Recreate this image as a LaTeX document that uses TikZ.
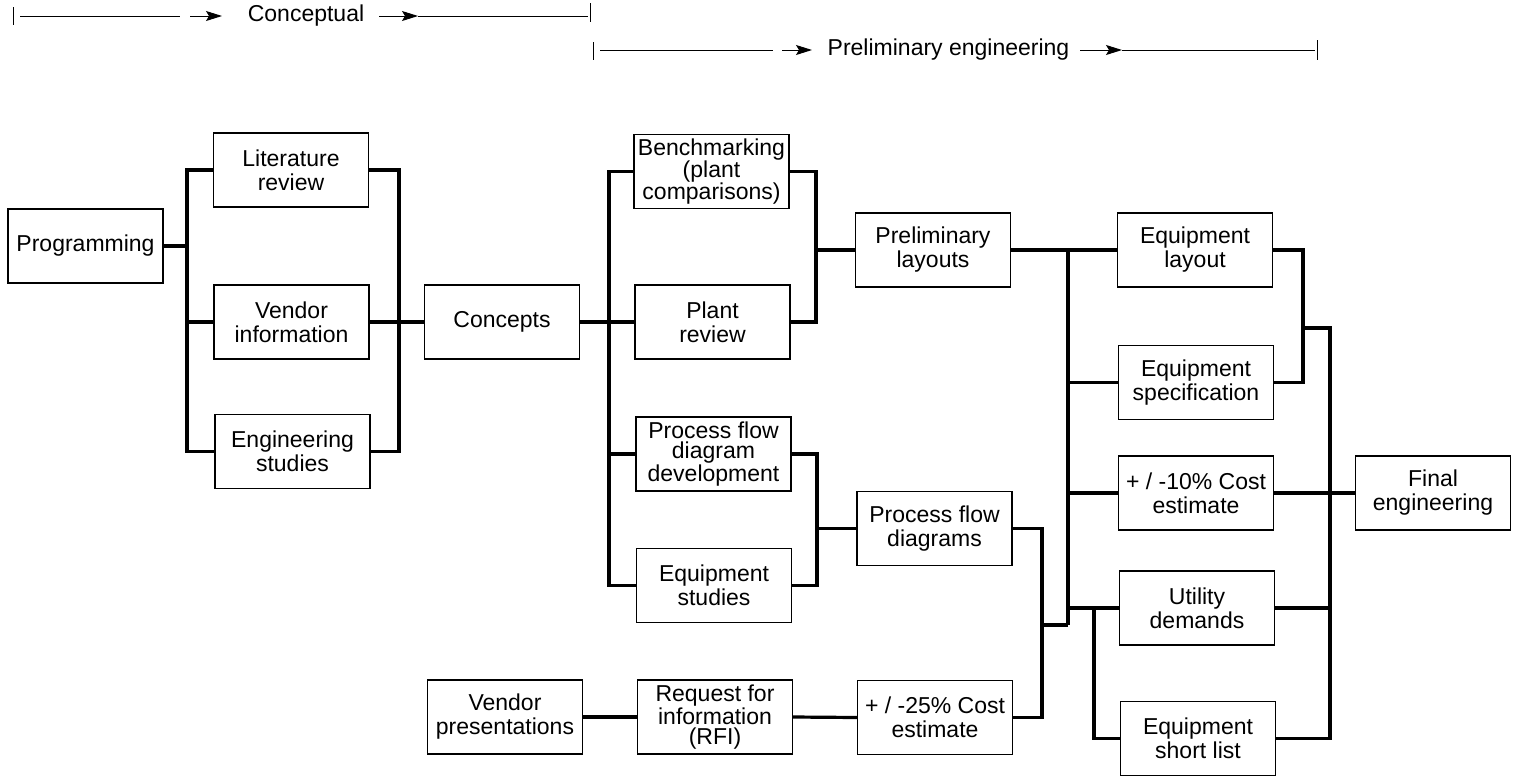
\documentclass[tikz,border=0pt]{standalone}
\usepackage{fontspec}
\setmainfont{Liberation Sans}
\usetikzlibrary{arrows.meta}
\begin{document}
\begin{tikzpicture}[x=1pt,y=-1pt,
  box/.style={draw,line width=1.4pt,minimum width=155pt,minimum height=74pt,inner sep=1pt,align=center,font=\fontsize{23}{24}\selectfont},
  tight/.style={font=\fontsize{23}{20}\selectfont},
  conn/.style={line width=3.2pt},
  hdr/.style={line width=1pt},
  harrow/.style={line width=1pt,-{Stealth[length=16pt,width=10pt,inset=3pt]}},
  lbl/.style={font=\fontsize{23}{24}\selectfont,inner sep=0pt}]
\useasboundingbox (0,0) rectangle (1515,777);

% boxes
\node[box] (prog) at (85.5,246) {Programming};
\node[box] (lit) at (291,170) {Literature\\review};
\node[box] (vinf) at (291.5,322) {Vendor\\information};
\node[box] (eng) at (292.5,451.5) {Engineering\\studies};
\node[box] (conc) at (502,322) {Concepts};
\node[box,tight] (bench) at (711.5,171.5) {Benchmarking\\(plant\\comparisons)};
\node[box] (plant) at (712.5,322) {Plant\\review};
\node[box,tight] (pfdd) at (713.5,454) {Process flow\\diagram\\development};
\node[box] (eqst) at (714,585.5) {Equipment\\studies};
\node[box] (prel) at (933,250) {Preliminary\\layouts};
\node[box] (pfd) at (934.5,528.5) {Process flow\\diagrams};
\node[box] (vpres) at (505,717) {Vendor\\presentations};
\node[box,tight] (rfi) at (715,717) {Request for\\information\\(RFI)};
\node[box] (c25) at (935,717.5) {+ / -25\% Cost\\estimate};
\node[box] (eqlay) at (1195,250) {Equipment\\layout};
\node[box] (eqspec) at (1196,382.5) {Equipment\\specification};
\node[box] (c10) at (1196,493) {+ / -10\% Cost\\estimate};
\node[box] (util) at (1197,608) {Utility\\demands};
\node[box] (short) at (1198,738.5) {Equipment\\short list};
\node[box] (final) at (1433,493) {Final\\engineering};

% bus coordinates
\coordinate (b1) at (187,246);
\coordinate (b2) at (399,322);
\coordinate (b3) at (609,322);
\coordinate (b4) at (816,250);
\coordinate (b5) at (817,528.5);
\coordinate (b6) at (1068,625);
\coordinate (b7) at (1094,608);
\coordinate (b8) at (1042,625);
\coordinate (b9) at (1303,328);
\coordinate (b10) at (1330,328);

% connectors
\draw[conn] (prog.east) -- (b1);
\draw[conn] (lit.west) -| (b1) |- (eng.west);
\draw[conn] (vinf.west) -- (vinf.west -| b1);
\draw[conn] (lit.east) -| (b2) |- (eng.east);
\draw[conn] (vinf.east) -- (conc.west);

\draw[conn] (bench.west) -| (b3) |- (eqst.west);
\draw[conn] (conc.east) -- (plant.west);
\draw[conn] (pfdd.west) -- (pfdd.west -| b3);

\draw[conn] (bench.east) -| (b4) |- (plant.east);
\draw[conn] (b4) -- (prel.west);
\draw[conn] (pfdd.east) -| (b5) |- (eqst.east);
\draw[conn] (b5) -- (pfd.west);

\draw[conn] (prel.east) -- (eqlay.west);
\draw[conn] (eqlay.west -| b6) -- (b6);
\draw[conn] (eqspec.west -| b6) -- (eqspec.west);
\draw[conn] (c10.west -| b6) -- (c10.west);
\draw[conn] (util.west -| b6) -- (util.west);
\draw[conn] (util.west -| b7) |- (short.west);
\draw[conn] (pfd.east) -| (b8) |- (c25.east);
\draw[conn] (b8) -- (b6);

\draw[conn] (vpres.east) -- (rfi.west);
\draw[conn] (rfi.east) -- (c25.west);

\draw[conn] (eqlay.east) -| (b9) |- (eqspec.east);
\draw[conn] (b9) -- (b10) |- (short.east);
\draw[conn] (util.east) -- (util.east -| b10);
\draw[conn] (c10.east) -- (final.west);

% header: conceptual
\coordinate (t1a) at (13,7);   \coordinate (t1b) at (13,25);
\coordinate (l1a) at (20,16);  \coordinate (l1b) at (180,16);
\coordinate (a1a) at (190,16); \coordinate (a1b) at (222,16);
\coordinate (a2a) at (379,16); \coordinate (a2b) at (418,16);
\coordinate (l2b) at (588,16);
\coordinate (t2a) at (590,3);  \coordinate (t2b) at (590,22);
\draw[hdr] (t1a) -- (t1b);
\draw[hdr] (l1a) -- (l1b);
\draw[harrow] (a1a) -- (a1b);
\node[lbl] (hc) at (306,16) {Conceptual};
\draw[harrow] (a2a) -- (a2b);
\draw[hdr] (a2b) -- (l2b);
\draw[hdr] (t2a) -- (t2b);

% header: preliminary engineering
\coordinate (t3a) at (593,42);  \coordinate (t3b) at (593,60);
\coordinate (l3a) at (600,50);  \coordinate (l3b) at (773,50);
\coordinate (a3a) at (782,50);  \coordinate (a3b) at (812,50);
\coordinate (a4a) at (1080,50); \coordinate (a4b) at (1122,50);
\coordinate (l4b) at (1315,50);
\coordinate (t4a) at (1317,40); \coordinate (t4b) at (1317,60);
\draw[hdr] (t3a) -- (t3b);
\draw[hdr] (l3a) -- (l3b);
\draw[harrow] (a3a) -- (a3b);
\node[lbl] (hp) at (948.5,50) {Preliminary engineering};
\draw[harrow] (a4a) -- (a4b);
\draw[hdr] (a4b) -- (l4b);
\draw[hdr] (t4a) -- (t4b);
\end{tikzpicture}
\end{document}
